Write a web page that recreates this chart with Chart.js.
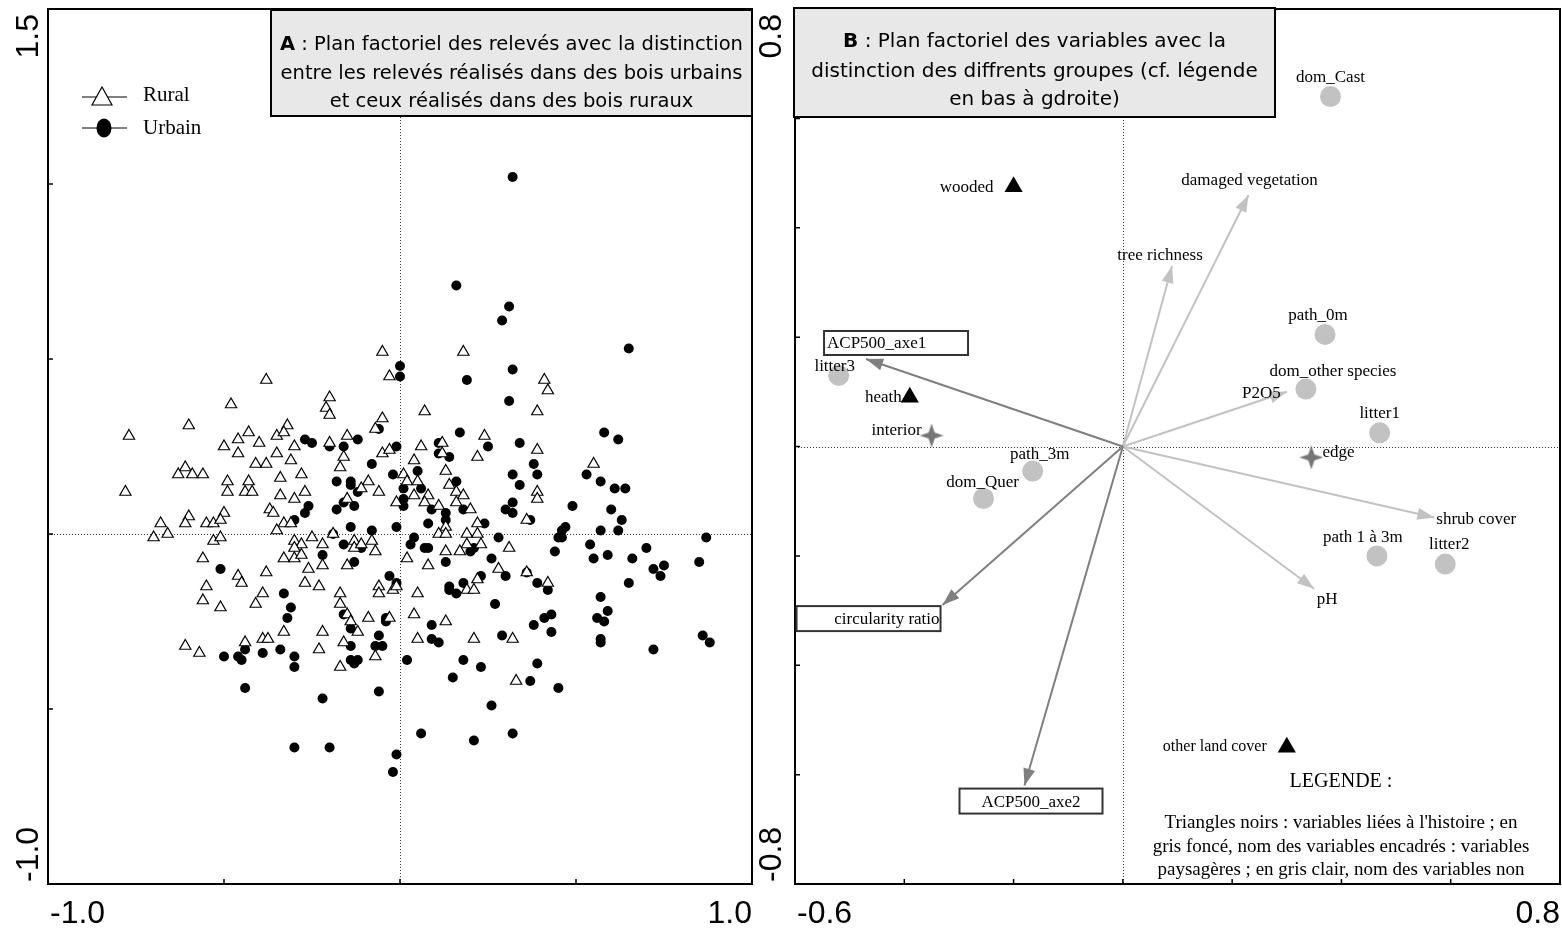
<!DOCTYPE html>
<html>
<head>
<meta charset="utf-8">
<script src="https://cdn.jsdelivr.net/npm/chart.js@4.4.1/dist/chart.umd.min.js"></script>
<style>
body { margin: 0; background: #fff; }
#wrap { position: relative; width: 1562px; height: 929px; }
canvas { position: absolute; top: 0; }
</style>
</head>
<body>
<div id="wrap">
  <canvas id="chartA" width="770" height="929" style="left:0"></canvas>
  <canvas id="chartB" width="822" height="929" style="left:740px"></canvas>
</div>
<script>
// ---- panel A : relevés (axe1, axe2) ----
const rural = [
  [-0.05,0.52],[-0.03,0.45],[-0.38,0.44],[-0.48,0.37],[-0.20,0.39],[-0.21,0.36],[-0.20,0.34],[-0.60,0.31],[-0.77,0.28],[-0.05,0.33],
  [-0.07,0.30],[-0.32,0.31],[-0.43,0.29],[-0.46,0.27],[-0.35,0.28],[-0.33,0.29],[-0.40,0.26],[-0.30,0.25],[-0.50,0.25],[-0.46,0.23],
  [-0.35,0.23],[-0.20,0.26],[-0.15,0.28],[-0.16,0.22],[-0.17,0.19],[-0.05,0.23],[-0.03,0.24],[-0.31,0.21],[-0.41,0.20],[-0.38,0.20],
  [-0.61,0.19],[-0.63,0.17],[-0.59,0.17],[-0.56,0.17],[-0.34,0.16],[-0.28,0.17],[-0.49,0.15],[-0.43,0.15],[-0.49,0.12],[-0.44,0.12],
  [-0.42,0.12],[-0.78,0.12],[-0.34,0.11],[-0.27,0.12],[-0.30,0.10],[-0.09,0.15],[-0.11,0.13],[-0.06,0.12],[-0.15,0.10],[-0.01,0.09],
  [-0.50,0.06],[-0.60,0.05],[-0.37,0.07],[-0.36,0.06],[-0.68,0.03],[-0.61,0.03],[-0.55,0.03],[-0.53,0.03],[-0.51,0.04],[-0.33,0.03],
  [-0.31,0.03],[-0.70,-0.01],[-0.66,0.00],[-0.53,-0.02],[-0.51,-0.01],[-0.35,0.01],[-0.30,-0.02],[-0.28,-0.03],[-0.25,-0.01],[-0.22,-0.03],
  [-0.30,-0.04],[-0.33,-0.07],[-0.30,-0.07],[-0.28,-0.06],[-0.22,-0.09],[-0.26,-0.10],[-0.19,0.00],[-0.13,-0.02],[-0.13,-0.04],[-0.11,-0.03],
  [-0.08,-0.02],[-0.07,-0.05],[-0.15,-0.09],[-0.56,-0.07],[-0.46,-0.12],[-0.45,-0.14],[-0.38,-0.11],[-0.27,-0.14],[-0.23,-0.15],[-0.55,-0.15],
  [-0.56,-0.19],[-0.51,-0.21],[-0.39,-0.17],[-0.41,-0.20],[-0.17,-0.17],[-0.17,-0.20],[-0.15,-0.23],[-0.14,-0.25],[-0.12,-0.28],[-0.09,-0.24],
  [-0.06,-0.15],[-0.06,-0.17],[-0.02,-0.16],[-0.03,-0.24],[-0.33,-0.28],[-0.22,-0.28],[-0.44,-0.31],[-0.39,-0.30],[-0.375,-0.30],[-0.61,-0.32],
  [-0.57,-0.34],[-0.23,-0.33],[-0.16,-0.31],[-0.07,-0.35],[-0.17,-0.38],
  [0.18,0.52],[0.41,0.44],[0.42,0.41],[0.07,0.35],[0.39,0.35],[0.24,0.28],[0.39,0.24],[0.22,0.22],[0.06,0.25],[0.12,0.26],
  [0.12,0.23],[0.04,0.21],[0.13,0.18],[0.01,0.17],[0.02,0.15],[0.05,0.15],[0.14,0.14],[0.16,0.12],[0.18,0.11],[0.16,0.09],
  [0.20,0.07],[0.04,0.11],[0.08,0.11],[0.07,0.09],[0.11,0.08],[0.39,0.12],[0.39,0.10],[0.36,0.04],[0.55,0.20],[0.22,0.03],
  [0.13,0.02],[0.11,0.00],[0.13,0.00],[0.19,0.00],[0.22,0.00],[0.19,-0.03],[0.17,-0.05],[0.23,-0.03],[0.13,-0.05],[0.31,-0.04],
  [0.02,-0.07],[0.08,-0.09],[0.28,-0.10],[0.22,-0.13],[0.36,-0.11],[0.42,-0.14],[0.19,-0.16],[0.21,-0.16],[0.05,-0.17],[-0.01,-0.15],
  [0.04,-0.23],[0.13,-0.25],[0.05,-0.30],[0.21,-0.30],[0.32,-0.30],[0.33,-0.42]
];

const urbain = [
  [-0.27,0.27],[-0.25,0.26],[-0.20,0.25],[-0.16,0.25],[-0.12,0.27],[-0.06,0.30],[-0.01,0.25],[0.00,0.48],[0.00,0.45],[-0.08,0.20],
  [-0.02,0.17],[-0.18,0.15],[-0.14,0.15],[-0.14,0.14],[-0.12,0.12],[-0.16,0.09],[-0.18,0.07],[-0.13,0.08],[-0.26,0.08],[-0.27,0.06],
  [-0.30,0.04],[-0.14,0.02],[-0.08,0.01],[-0.01,0.02],
  [-0.19,0.00],[-0.16,-0.03],[-0.11,-0.04],[-0.22,-0.06],[-0.13,-0.08],[-0.03,-0.12],[-0.01,-0.14],[-0.51,-0.10],[-0.33,-0.17],[-0.31,-0.21],
  [-0.32,-0.24],[-0.16,-0.23],[-0.14,-0.27],[-0.04,-0.24],[-0.04,-0.25],[-0.06,-0.29],[-0.07,-0.32],[-0.05,-0.32],[-0.14,-0.32],[-0.14,-0.36],
  [-0.12,-0.36],[-0.13,-0.37],[-0.44,-0.33],[-0.46,-0.35],[-0.45,-0.36],[-0.50,-0.35],[-0.39,-0.34],[-0.34,-0.33],[-0.30,-0.35],[-0.30,-0.38],
  [-0.44,-0.44],[-0.22,-0.47],[-0.06,-0.45],[-0.30,-0.61],[-0.20,-0.61],[-0.01,-0.63],[-0.02,-0.68],
  [0.32,1.02],[0.16,0.71],[0.31,0.65],[0.29,0.61],[0.65,0.53],[0.32,0.47],[0.19,0.44],[0.31,0.38],[0.17,0.29],[0.25,0.25],
  [0.34,0.26],[0.58,0.29],[0.62,0.27],[0.11,0.26],[0.11,0.23],[0.14,0.22],[0.38,0.20],[0.39,0.17],[0.32,0.17],[0.05,0.18],
  [0.06,0.13],[0.01,0.13],[0.16,0.15],[0.34,0.14],[0.53,0.17],[0.57,0.15],[0.61,0.13],[0.64,0.13],[0.01,0.10],[0.01,0.08],
  [0.09,0.07],[0.13,0.06],[0.13,0.04],[0.18,0.07],[0.30,0.07],[0.32,0.09],[0.32,0.06],[0.49,0.08],[0.60,0.07],[0.63,0.04],
  [0.37,0.04],[0.24,0.03],[0.08,0.03],[0.47,0.02],[0.57,0.01],[0.62,0.01],
  [0.04,-0.01],[0.03,-0.03],[0.07,-0.04],[0.08,-0.04],[0.20,-0.05],[0.21,-0.04],[0.28,-0.01],[0.26,-0.07],[0.13,-0.08],[0.23,-0.12],
  [0.30,-0.12],[0.36,-0.11],[0.39,-0.14],[0.42,-0.16],[0.14,-0.15],[0.14,-0.16],[0.16,-0.17],[0.18,-0.14],[0.27,-0.20],[0.09,-0.26],
  [0.09,-0.30],[0.11,-0.31],[0.02,-0.36],[0.29,-0.29],[0.38,-0.26],[0.41,-0.24],[0.43,-0.23],[0.43,-0.28],[0.18,-0.36],[0.23,-0.38],
  [0.15,-0.41],[0.39,-0.37],[0.37,-0.42],[0.45,-0.44],[0.26,-0.49],[0.06,-0.57],[0.21,-0.59],[0.32,-0.57],[0.45,-0.01],[0.46,-0.01],
  [0.46,0.01],[0.44,-0.05],[0.54,-0.03],[0.55,-0.07],[0.59,-0.06],[0.66,-0.07],[0.70,-0.04],[0.72,-0.10],[0.75,-0.09],[0.74,-0.12],
  [0.65,-0.14],[0.57,-0.18],[0.59,-0.22],[0.56,-0.24],[0.58,-0.25],[0.57,-0.30],[0.57,-0.31],[0.72,-0.33],[0.87,-0.01],[0.85,-0.08],
  [0.86,-0.29],[0.88,-0.31]
];

// ---- panel B : variables ----
// vectors (arrows); the first three are landscape variables (dark grey, boxed names)
const vectorNames = ['ACP500_axe1', 'circularity ratio', 'ACP500_axe2', 'damaged vegetation', 'tree richness', 'P2O5', 'shrub cover', 'pH'];
const vectorX = [-0.47, -0.33, -0.18, 0.23, 0.09, 0.30, 0.57, 0.35];
const vectorY = [0.16, -0.29, -0.62, 0.46, 0.33, 0.10, -0.13, -0.26];
const vectorBoxed = [true, true, true, false, false, false, false, false];

// qualitative variables, light grey circles
const localNames = ['dom_Cast', 'path_0m', 'dom_other species', 'litter1', 'litter3', 'path_3m', 'dom_Quer', 'path 1 à 3m', 'litter2'];
const localX = [0.38, 0.37, 0.335, 0.47, -0.52, -0.165, -0.255, 0.465, 0.59];
const localY = [0.64, 0.205, 0.105, 0.025, 0.13, -0.045, -0.095, -0.20, -0.215];

// history variables, black triangles
const historyNames = ['wooded', 'heath', 'other land cover'];
const historyX = [-0.20, -0.39, 0.30];
const historyY = [0.475, 0.09, -0.55];

// position in the wood, dark grey stars
const edgeNames = ['interior', 'edge'];
const edgeX = [-0.35, 0.345];
const edgeY = [0.02, -0.02];

const darkGrey = '#7f7f7f';
const lightGrey = '#c2c2c2';

// label placement (pixels from the point, text middle)
const labelPlace = {
  'dom_Cast': [0, -19, 'center'], 'path_0m': [-7, -19, 'center'], 'dom_other species': [27, -18, 'center'],
  'litter1': [0, -19, 'center'], 'litter3': [-4, -9, 'center'], 'path_3m': [7, -17, 'center'],
  'dom_Quer': [-1, -16, 'center'], 'path 1 à 3m': [-14, -18, 'center'], 'litter2': [4, -20, 'center'],
  'wooded': [-20, 1, 'right'], 'heath': [-8, 0, 'right'], 'other land cover': [-20, 0, 'right'],
  'interior': [-10, -5, 'right'], 'edge': [11, -5, 'left'],
  'damaged vegetation': [1, -14, 'center'], 'tree richness': [-12, -11, 'center'], 'P2O5': [-6, 2, 'right'],
  'shrub cover': [2, 2, 'left'], 'pH': [13, 11, 'center']
};
// boxed labels: box left, top (from arrow tip), width, height, text align
const boxPlace = {
  'ACP500_axe1': [-42, -28, 144, 24, 'left'],
  'circularity ratio': [-146, 1, 144, 25, 'right'],
  'ACP500_axe2': [-65, 3, 143, 25, 'center']
};

function makeStar(size, color) {
  const c = document.createElement('canvas');
  c.width = c.height = size;
  const g = c.getContext('2d');
  const r = size / 2, ri = r * 0.36;
  g.fillStyle = color;
  g.beginPath();
  for (let i = 0; i < 8; i++) {
    const a = i * Math.PI / 4 - Math.PI / 2;
    const rr = i % 2 === 0 ? r : ri;
    g.lineTo(r + rr * Math.cos(a), r + rr * Math.sin(a));
  }
  g.closePath();
  g.fill();
  return c;
}

const serif = '"Liberation Serif", "Times New Roman", serif';

// frame: border, inner ticks, dotted zero lines, end labels, title box, legend
const framePlugin = {
  id: 'frame',
  beforeDatasetsDraw(chart, args, o) {
    const {ctx, chartArea: a, scales: {x, y}} = chart;
    ctx.save();
    ctx.strokeStyle = '#333';
    ctx.lineWidth = 1;
    ctx.setLineDash([1, 2]);
    const x0 = Math.round(x.getPixelForValue(0)) + 0.5;
    const y0 = Math.round(y.getPixelForValue(0)) + 0.5;
    ctx.beginPath();
    ctx.moveTo(x0, a.top); ctx.lineTo(x0, a.bottom);
    ctx.moveTo(a.left, y0); ctx.lineTo(a.right, y0);
    ctx.stroke();
    ctx.restore();
  },
  afterDatasetsDraw(chart, args, o) {
    const {ctx, chartArea: a, scales: {x, y}} = chart;
    ctx.save();
    ctx.strokeStyle = '#000';
    ctx.lineWidth = 2;
    ctx.strokeRect(a.left, a.top, a.right - a.left, a.bottom - a.top);
    ctx.lineWidth = 1.5;
    ctx.beginPath();
    o.xTicks.forEach(v => {
      const p = x.getPixelForValue(v);
      ctx.moveTo(p, a.bottom); ctx.lineTo(p, a.bottom - 5);
    });
    o.yTicks.forEach(v => {
      const p = y.getPixelForValue(v);
      ctx.moveTo(a.left, p); ctx.lineTo(a.left + 5, p);
    });
    ctx.stroke();

    // end labels of the axes
    ctx.fillStyle = '#000';
    ctx.font = '32px "Liberation Sans", Arial, sans-serif';
    ctx.textBaseline = 'alphabetic';
    ctx.textAlign = 'left';
    ctx.fillText(o.xLabels[0], a.left + 2, a.bottom + 39);
    ctx.textAlign = 'right';
    ctx.fillText(o.xLabels[1], a.right, a.bottom + 39);
    ctx.save();
    ctx.translate(a.left - o.yLabelGap, a.top + 5);
    ctx.rotate(-Math.PI / 2);
    ctx.textAlign = 'right';
    ctx.fillText(o.yLabels[0], 0, 0);
    ctx.restore();
    ctx.save();
    ctx.translate(a.left - o.yLabelGap, a.bottom - 2);
    ctx.rotate(-Math.PI / 2);
    ctx.textAlign = 'left';
    ctx.fillText(o.yLabels[1], 0, 0);
    ctx.restore();

    // title box
    const b = o.box;
    const bx = a.left + b.left, by = a.top + b.top;
    ctx.fillStyle = '#e8e8e8';
    ctx.fillRect(bx, by, b.width, b.height);
    ctx.lineWidth = 2;
    ctx.strokeRect(bx, by, b.width, b.height);
    const fam = '"DejaVu Sans", sans-serif';
    let size = 20;
    const lineWidth = (s) => Math.max(...b.lines.map(l => {
      ctx.font = 'bold ' + s + 'px ' + fam;
      const w1 = ctx.measureText(l[0]).width;
      ctx.font = s + 'px ' + fam;
      return w1 + ctx.measureText(l[1]).width;
    }));
    while (size > 10 && lineWidth(size) > b.width - 8) size -= 0.5;
    ctx.fillStyle = '#000';
    ctx.textBaseline = 'middle';
    ctx.textAlign = 'left';
    b.lines.forEach((l, i) => {
      ctx.font = 'bold ' + size + 'px ' + fam;
      const w1 = ctx.measureText(l[0]).width;
      ctx.font = size + 'px ' + fam;
      const w2 = ctx.measureText(l[1]).width;
      const sx = bx + b.width / 2 - (w1 + w2) / 2;
      ctx.font = 'bold ' + size + 'px ' + fam;
      ctx.fillText(l[0], sx, by + b.lineY[i]);
      ctx.font = size + 'px ' + fam;
      ctx.fillText(l[1], sx + w1, by + b.lineY[i]);
    });

    // legend of panel A
    if (o.legend) {
      ctx.strokeStyle = '#000';
      ctx.lineWidth = 1;
      ctx.font = '21px ' + serif;
      ctx.textBaseline = 'middle';
      o.legend.forEach(it => {
        const lx = a.left + 34, ly = a.top + it.y;
        ctx.beginPath();
        ctx.moveTo(lx, ly); ctx.lineTo(lx + 45, ly);
        ctx.stroke();
        if (it.style === 'triangle') {
          ctx.fillStyle = '#fff';
          ctx.lineWidth = 1.2;
          ctx.beginPath();
          ctx.moveTo(lx + 20, ly - 10);
          ctx.lineTo(lx + 30, ly + 8);
          ctx.lineTo(lx + 10, ly + 8);
          ctx.closePath();
          ctx.fill(); ctx.stroke();
          ctx.lineWidth = 1;
        } else {
          ctx.fillStyle = '#000';
          ctx.beginPath();
          ctx.ellipse(lx + 22, ly, 7.5, 9.5, 0, 0, Math.PI * 2);
          ctx.fill();
        }
        ctx.fillStyle = '#000';
        ctx.fillText(it.text, a.left + 95, ly + it.textDy);
      });
    }

    // explanatory notes of panel B
    if (o.notes) {
      ctx.fillStyle = '#000';
      ctx.textAlign = 'center';
      ctx.textBaseline = 'alphabetic';
      o.notes.lines.forEach(n => {
        ctx.font = n.size + 'px ' + serif;
        ctx.fillText(n.text, a.left + o.notes.x, n.y);
      });
    }
    ctx.restore();
  }
};

// arrowheads and variable names for panel B
const variablePlugin = {
  id: 'variables',
  afterDatasetsDraw(chart) {
    const {ctx, scales: {x, y}} = chart;
    ctx.save();
    const x0 = x.getPixelForValue(0), y0 = y.getPixelForValue(0);
    vectorNames.forEach((n, i) => {
      const x1 = x.getPixelForValue(vectorX[i]), y1 = y.getPixelForValue(vectorY[i]);
      const ang = Math.atan2(y1 - y0, x1 - x0);
      const c = Math.cos(ang), s = Math.sin(ang);
      ctx.fillStyle = vectorBoxed[i] ? darkGrey : lightGrey;
      ctx.beginPath();
      ctx.moveTo(x1, y1);
      ctx.lineTo(x1 - 17 * c + 6 * s, y1 - 17 * s - 6 * c);
      ctx.lineTo(x1 - 17 * c - 6 * s, y1 - 17 * s + 6 * c);
      ctx.closePath();
      ctx.fill();

      ctx.font = '17px ' + serif;
      ctx.fillStyle = '#000';
      if (vectorBoxed[i]) {
        const p = boxPlace[n];
        const bx = x1 + p[0], by = y1 + p[1];
        ctx.fillStyle = '#fff';
        ctx.fillRect(bx, by, p[2], p[3]);
        ctx.strokeStyle = '#333';
        ctx.lineWidth = 2;
        ctx.strokeRect(bx, by, p[2], p[3]);
        ctx.fillStyle = '#000';
        ctx.textBaseline = 'middle';
        ctx.textAlign = p[4];
        const tx = p[4] === 'left' ? bx + 3 : p[4] === 'right' ? bx + p[2] - 1 : bx + p[2] / 2;
        ctx.fillText(n, tx, by + p[3] / 2 + 1);
      } else {
        const p = labelPlace[n];
        ctx.textBaseline = 'middle';
        ctx.textAlign = p[2];
        ctx.fillText(n, x1 + p[0], y1 + p[1]);
      }
    });
    const groups = [[localNames, localX, localY], [historyNames, historyX, historyY], [edgeNames, edgeX, edgeY]];
    groups.forEach(([names, xs, ys]) => {
      names.forEach((n, i) => {
        const p = labelPlace[n];
        ctx.font = (n === 'other land cover' ? 16 : 17) + 'px ' + serif;
        ctx.fillStyle = '#000';
        ctx.textBaseline = 'middle';
        ctx.textAlign = p[2];
        ctx.fillText(n, x.getPixelForValue(xs[i]) + p[0], y.getPixelForValue(ys[i]) + p[1]);
      });
    });
    ctx.restore();
  }
};

const baseOptions = (padding, xr, yr, frame) => ({
  responsive: false,
  animation: false,
  devicePixelRatio: 1,
  layout: { padding: padding, autoPadding: false },
  scales: {
    x: { type: 'linear', min: xr[0], max: xr[1], display: false },
    y: { type: 'linear', min: yr[0], max: yr[1], display: false }
  },
  plugins: { legend: { display: false }, tooltip: { enabled: false }, frame: frame }
});

new Chart(document.getElementById('chartA'), {
  type: 'scatter',
  data: {
    datasets: [
      {
        label: 'Rural',
        data: rural.map(p => ({ x: p[0], y: p[1] })),
        pointStyle: 'triangle',
        pointRadius: 6.5,
        backgroundColor: '#fff',
        borderColor: '#000',
        borderWidth: 1.2
      },
      {
        label: 'Urbain',
        data: urbain.map(p => ({ x: p[0], y: p[1] })),
        pointStyle: 'circle',
        pointRadius: 5,
        backgroundColor: '#000',
        borderColor: '#000',
        borderWidth: 0
      }
    ]
  },
  options: baseOptions({ left: 48, right: 18, top: 9, bottom: 45 }, [-1, 1], [-1, 1.5], {
    xTicks: [-0.5, 0, 0.5],
    yTicks: [1.0, 0.5, 0, -0.5],
    xLabels: ['-1.0', '1.0'],
    yLabels: ['1.5', '-1.0'],
    yLabelGap: 10,
    box: {
      left: 223, top: 1, width: 481, height: 106, lineY: [35, 64, 92],
      lines: [['A', ' : Plan factoriel des relevés avec la distinction'],
              ['', 'entre les relevés réalisés dans des bois urbains'],
              ['', 'et ceux réalisés dans des bois ruraux']]
    },
    legend: [
      { text: 'Rural', style: 'triangle', y: 88, textDy: -2 },
      { text: 'Urbain', style: 'circle', y: 119, textDy: 0 }
    ]
  }),
  plugins: [framePlugin]
});

const star = makeStar(24, '#767676');

const vectorSets = vectorNames.map((n, i) => ({
  label: n,
  data: [{ x: 0, y: 0 }, { x: vectorX[i], y: vectorY[i] }],
  showLine: true,
  borderColor: vectorBoxed[i] ? darkGrey : lightGrey,
  borderWidth: 2,
  pointRadius: 0
}));

new Chart(document.getElementById('chartB'), {
  type: 'scatter',
  data: {
    datasets: [
      {
        label: 'histoire',
        data: historyNames.map((n, i) => ({ x: historyX[i], y: historyY[i] })),
        pointStyle: 'triangle',
        pointRadius: 10.5,
        backgroundColor: '#000',
        borderWidth: 0
      },
      {
        label: 'lisière',
        data: edgeNames.map((n, i) => ({ x: edgeX[i], y: edgeY[i] })),
        pointStyle: star,
        pointRadius: 12
      },
      {
        label: 'locales',
        data: localNames.map((n, i) => ({ x: localX[i], y: localY[i] })),
        pointStyle: 'circle',
        pointRadius: 10.5,
        backgroundColor: lightGrey,
        borderWidth: 0
      },
      ...vectorSets
    ]
  },
  options: baseOptions({ left: 55, right: 2, top: 9, bottom: 45 }, [-0.6, 0.8], [-0.8, 0.8], {
    xTicks: [-0.4, -0.2, 0, 0.2, 0.4, 0.6],
    yTicks: [0.6, 0.4, 0.2, 0, -0.2, -0.4, -0.6],
    xLabels: ['-0.6', '0.8'],
    yLabels: ['0.8', '-0.8'],
    yLabelGap: 14,
    box: {
      left: -1, top: -1, width: 481, height: 109, lineY: [34, 64, 92],
      lines: [['B', ' : Plan factoriel des variables avec la'],
              ['', 'distinction des diffrents groupes (cf. légende'],
              ['', 'en bas à gdroite)']]
    },
    notes: {
      x: 546,
      lines: [
        { text: 'LEGENDE :', y: 787, size: 20 },
        { text: "Triangles noirs : variables liées à l'histoire ; en", y: 828, size: 19 },
        { text: 'gris foncé, nom des variables encadrés : variables', y: 852, size: 19 },
        { text: 'paysagères ; en gris clair, nom des variables non', y: 875, size: 19 }
      ]
    }
  }),
  plugins: [framePlugin, variablePlugin]
});
</script>
</body>
</html>
